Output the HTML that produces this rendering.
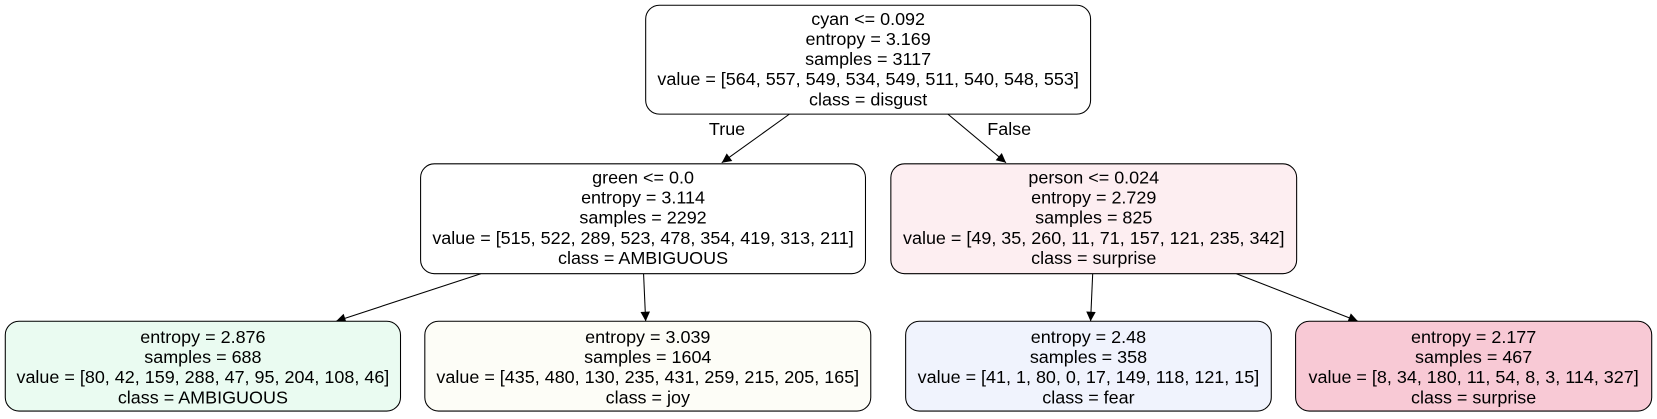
<!DOCTYPE html>
<html><head><meta charset="utf-8"><style>
html,body{margin:0;padding:0;background:#fff;}
svg{display:block;}
text{font-family:"Liberation Sans",sans-serif;font-size:17px;fill:#000;text-anchor:middle;dominant-baseline:central;}
</style></head><body>
<svg width="1657" height="419" viewBox="0 0 1568 396.5" preserveAspectRatio="none">
<defs><marker id="ah" viewBox="0 0 10 10" refX="10" refY="5" markerWidth="12" markerHeight="9" markerUnits="userSpaceOnUse" orient="auto"><path d="M0,0L10,5L0,10z" fill="#000"/></marker></defs>
<g stroke="#000" stroke-width="1" fill="none">
<line x1="747" y1="108" x2="683" y2="154" marker-end="url(#ah)"/>
<line x1="897" y1="108" x2="952" y2="154" marker-end="url(#ah)"/>
<line x1="455" y1="259" x2="318" y2="304" marker-end="url(#ah)"/>
<line x1="609" y1="259" x2="611" y2="304" marker-end="url(#ah)"/>
<line x1="1034" y1="259" x2="1032" y2="304" marker-end="url(#ah)"/>
<line x1="1170" y1="259" x2="1285" y2="304" marker-end="url(#ah)"/>
</g>
<text x="688" y="122">True</text>
<text x="955" y="122">False</text>

<g>
<rect x="611" y="5" width="421" height="103" rx="13" fill="#fff" stroke="#000"/>
<text x="821.5" y="18">cyan &lt;= 0.092</text>
<text x="821.5" y="37">entropy = 3.169</text>
<text x="821.5" y="56">samples = 3117</text>
<text x="821.5" y="75">value = [564, 557, 549, 534, 549, 511, 540, 548, 553]</text>
<text x="821.5" y="94">class = disgust</text>
</g>
<g>
<rect x="398" y="155" width="421" height="104" rx="13" fill="#fff" stroke="#000"/>
<text x="608.5" y="168">green &lt;= 0.0</text>
<text x="608.5" y="187">entropy = 3.114</text>
<text x="608.5" y="206">samples = 2292</text>
<text x="608.5" y="225">value = [515, 522, 289, 523, 478, 354, 419, 313, 211]</text>
<text x="608.5" y="244">class = AMBIGUOUS</text>
</g>
<g>
<rect x="843" y="155" width="384" height="104" rx="13" fill="#fdeef1" stroke="#000"/>
<text x="1035" y="168">person &lt;= 0.024</text>
<text x="1035" y="187">entropy = 2.729</text>
<text x="1035" y="206">samples = 825</text>
<text x="1035" y="225">value = [49, 35, 260, 11, 71, 157, 121, 235, 342]</text>
<text x="1035" y="244">class = surprise</text>
</g>
<g>
<rect x="5" y="304" width="374" height="85" rx="13" fill="#eafbf1" stroke="#000"/>
<text x="192" y="319">entropy = 2.876</text>
<text x="192" y="338">samples = 688</text>
<text x="192" y="357">value = [80, 42, 159, 288, 47, 95, 204, 108, 46]</text>
<text x="192" y="376">class = AMBIGUOUS</text>
</g>
<g>
<rect x="402" y="304" width="422" height="85" rx="13" fill="#fdfdf7" stroke="#000"/>
<text x="613" y="319">entropy = 3.039</text>
<text x="613" y="338">samples = 1604</text>
<text x="613" y="357">value = [435, 480, 130, 235, 431, 259, 215, 205, 165]</text>
<text x="613" y="376">class = joy</text>
</g>
<g>
<rect x="857" y="304" width="346" height="85" rx="13" fill="#f0f3fd" stroke="#000"/>
<text x="1030" y="319">entropy = 2.48</text>
<text x="1030" y="338">samples = 358</text>
<text x="1030" y="357">value = [41, 1, 80, 0, 17, 149, 118, 121, 15]</text>
<text x="1030" y="376">class = fear</text>
</g>
<g>
<rect x="1226" y="304" width="337" height="85" rx="13" fill="#f8c9d5" stroke="#000"/>
<text x="1394.5" y="319">entropy = 2.177</text>
<text x="1394.5" y="338">samples = 467</text>
<text x="1394.5" y="357">value = [8, 34, 180, 11, 54, 8, 3, 114, 327]</text>
<text x="1394.5" y="376">class = surprise</text>
</g>
</svg>
</body></html>
